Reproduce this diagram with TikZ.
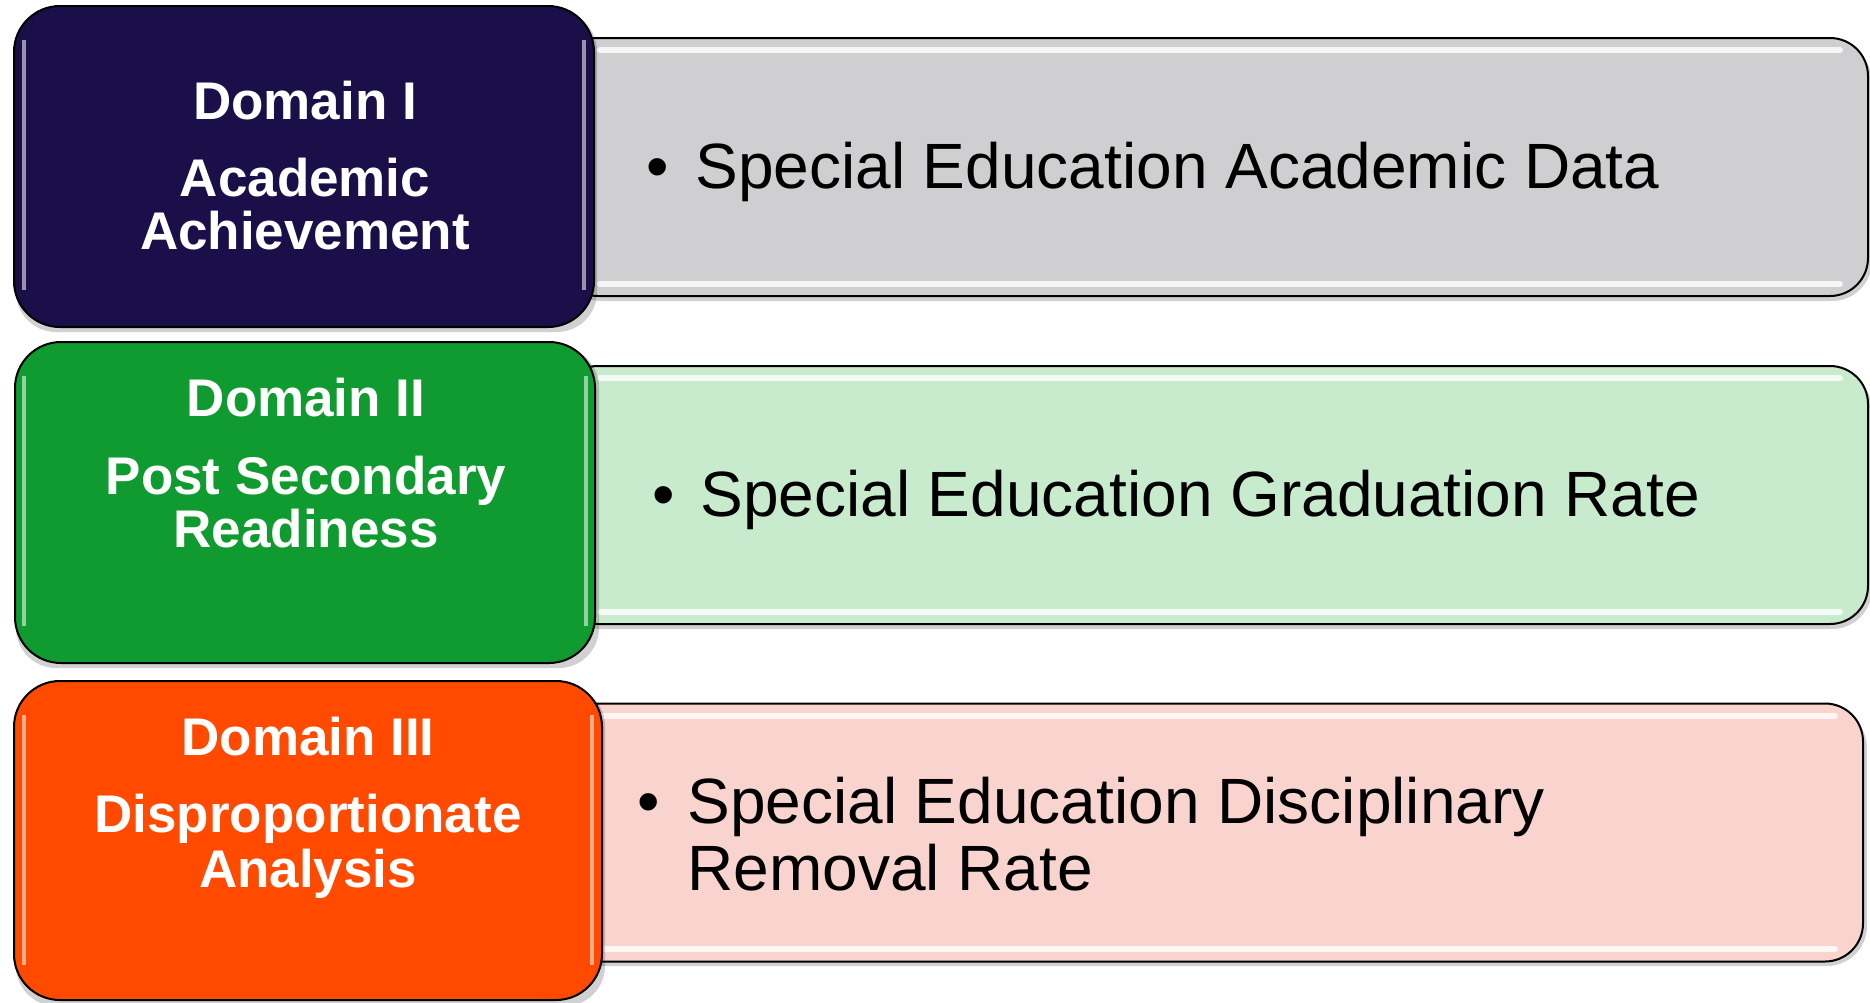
\documentclass[tikz,border=0pt]{standalone}
\usepackage{fontspec}
\setmainfont{Liberation Sans}
\definecolor{navy}{HTML}{1B0F4A}
\definecolor{dgreen}{HTML}{0F9B2F}
\definecolor{orng}{HTML}{FF4A00}
\definecolor{lgray}{HTML}{CFCFD1}
\definecolor{lgreen}{HTML}{C9EBCD}
\definecolor{lpink}{HTML}{F9D3CD}
\begin{document}
\begin{tikzpicture}[x=0.5pt,y=-0.5pt,
  domainbox/.style={draw=black, line width=1pt, rounded corners=23pt, inner sep=0pt,
    minimum width=290pt, minimum height=160.5pt},
  itembox/.style={draw=black, line width=1pt, rounded corners=19pt, inner sep=0pt,
    minimum width=654pt, minimum height=129pt},
  shade/.style={fill=black, opacity=0.18, rounded corners=20pt},
  gloss/.style={draw=white, line width=2pt, opacity=0.55, rounded corners=19pt},
  hilite/.style={draw=white, line width=3pt, opacity=0.8, line cap=round},
  dtitle/.style={text=white, font=\fontsize{26.5}{27}\selectfont\bfseries, anchor=base, inner sep=0pt},
  itemtext/.style={text=black, font=\fontsize{32}{33}\selectfont, anchor=base west, inner sep=0pt},
  bulletmark/.style={text=black, font=\fontsize{32}{33}\selectfont, anchor=base, inner sep=0pt}
]
\useasboundingbox (0,0) rectangle (1870,1002);
\fill[white] (0,0) rectangle (1870,1002);

% ---------- right item boxes ----------
\fill[shade] (562,42) rectangle (1872,301);
\node[itembox, fill=lgray] (i1) at (1214,167) {};
\draw[hilite] (600,50) -- (1840,50);
\draw[hilite] (600,284) -- (1840,284);

\fill[shade] (562,370) rectangle (1872,629);
\node[itembox, fill=lgreen] (i2) at (1214,495) {};
\draw[hilite] (600,378) -- (1840,378);
\draw[hilite] (600,612) -- (1840,612);

\fill[shade] (562,708) rectangle (1867,966);
\node[itembox, fill=lpink, minimum width=651.5pt] (i3) at (1211.5,832.5) {};
\draw[hilite] (600,716) -- (1835,716);
\draw[hilite] (600,949) -- (1835,949);

% ---------- left domain boxes ----------
\fill[shade] (16,11) rectangle (597,332);
\node[domainbox, fill=navy] (d1) at (304,166.5) {};
\draw[gloss] (24,40) -- (24,290);
\draw[gloss] (584,40) -- (584,290);

\fill[shade] (16,347) rectangle (599,668);
\node[domainbox, fill=dgreen] (d2) at (305,502.5) {};
\draw[gloss] (24,376) -- (24,626);
\draw[gloss] (586,376) -- (586,626);

\fill[shade] (16,686) rectangle (605,1006);
\node[domainbox, fill=orng, minimum width=294pt, minimum height=159.5pt] (d3) at (308,840.5) {};
\draw[gloss] (24,715) -- (24,965);
\draw[gloss] (592,715) -- (592,965);

% ---------- domain texts ----------
\node[dtitle] (t1a) at (305,119) {Domain I};
\node[dtitle] (t1b) at (305,196) {Academic};
\node[dtitle] (t1c) at (305,249) {Achievement};

\node[dtitle] (t2a) at (306,416) {Domain II};
\node[dtitle] (t2b) at (306,494) {Post Secondary};
\node[dtitle] (t2c) at (306,547) {Readiness};

\node[dtitle] (t3a) at (308,755) {Domain III};
\node[dtitle] (t3b) at (308,832) {Disproportionate};
\node[dtitle] (t3c) at (308,887) {Analysis};

% ---------- item texts ----------
\node[bulletmark] (b1) at (658,188) {•};
\node[itemtext] (s1) at (695,188) {Special Education Academic Data};

\node[bulletmark] (b2) at (664,516) {•};
\node[itemtext] (s2) at (700,516) {Special Education Graduation Rate};

\node[bulletmark] (b3) at (649,823) {•};
\node[itemtext] (s3a) at (687,823) {Special Education Disciplinary};
\node[itemtext] (s3b) at (687,890) {Removal Rate};
\end{tikzpicture}
\end{document}
